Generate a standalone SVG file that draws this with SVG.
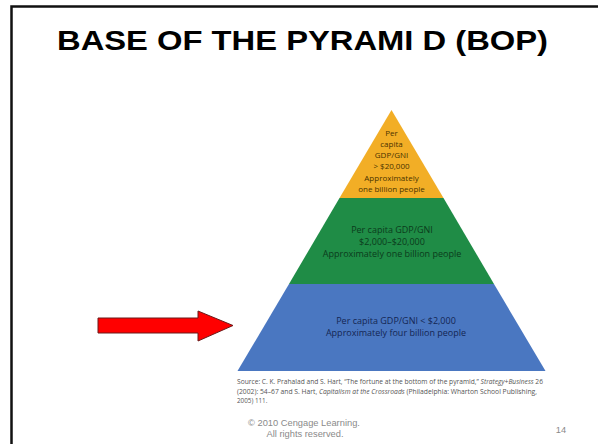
<svg xmlns="http://www.w3.org/2000/svg" width="600" height="444" viewBox="0 0 600 444">
<style>
.title{font-family:"Liberation Sans",Arial,sans-serif;font-weight:bold;font-size:28px;fill:#000}
.lbl{font-family:"Open Sans","Liberation Sans",sans-serif;font-size:9px;text-anchor:middle}
.sm{font-size:8px}
.src{font-family:"Open Sans","Liberation Sans",sans-serif;font-size:6.3px;fill:#555}
.foot{font-family:"Liberation Sans",Arial,sans-serif;font-size:9.3px;fill:#8a8a8a}
</style>
<rect x="0" y="0" width="600" height="444" fill="#fff"/>
<path d="M11.5,450 V6.5 H598" fill="none" stroke="#111" stroke-width="2.5"/>
<text class="title" x="57" y="49.5" textLength="491" lengthAdjust="spacingAndGlyphs">BASE OF THE PYRAMI D (BOP)</text>
<g id="tier-top">
<polygon points="391.5,110 443.5,198 339.5,198" fill="#F2AE26"/>
<text class="lbl sm" fill="#4a3300"><tspan x="391.5" y="136">Per</tspan><tspan x="391.5" y="147">capita</tspan><tspan x="391.5" y="158">GDP/GNI</tspan><tspan x="391.5" y="169">&gt; $20,000</tspan><tspan x="391.5" y="180.5">Approximately</tspan><tspan x="391.5" y="192">one billion people</tspan></text>
</g>
<g id="tier-middle">
<polygon points="339.5,198 443.5,198 494,284 289,284" fill="#1F8C46"/>
<text class="lbl" fill="#0b3b1c"><tspan x="392" y="233">Per capita GDP/GNI</tspan><tspan x="392" y="245">$2,000–$20,000</tspan><tspan x="392" y="257">Approximately one billion people</tspan></text>
</g>
<g id="tier-base">
<polygon points="289,284 494,284 545.5,371 237.5,371" fill="#4A77C1"/>
<text class="lbl" fill="#142653"><tspan x="396" y="324">Per capita GDP/GNI &lt; $2,000</tspan><tspan x="396" y="336">Approximately four billion people</tspan></text>
</g>
<g id="source">
<text class="src" x="237" y="383.5" textLength="306" lengthAdjust="spacingAndGlyphs">Source: C. K. Prahalad and S. Hart, “The fortune at the bottom of the pyramid,” <tspan font-style="italic">Strategy+Business</tspan> 26</text>
<text class="src" x="237" y="393.5" textLength="300" lengthAdjust="spacingAndGlyphs">(2002): 54–67 and S. Hart, <tspan font-style="italic">Capitalism at the Crossroads</tspan> (Philadelphia: Wharton School Publishing,</text>
<text class="src" x="237" y="402.5">2005) 111.</text>
</g>
<g id="arrow">
<polygon points="98,318 198,318 198,311 233,325.5 198,341 198,333 98,333" fill="#FF0000" stroke="#6b1a1a" stroke-width="1"/>
</g>
<text class="foot" x="304" y="426" text-anchor="middle">© 2010 Cengage Learning.</text>
<text class="foot" x="305" y="437" text-anchor="middle">All rights reserved.</text>
<text class="foot" x="561" y="433" text-anchor="middle">14</text>
</svg>
